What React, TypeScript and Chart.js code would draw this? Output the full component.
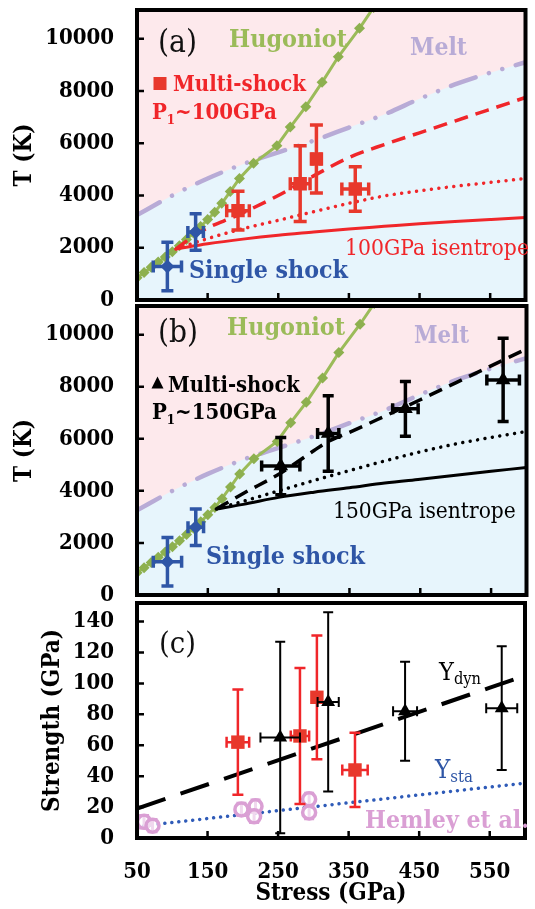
import React, { useEffect, useRef } from 'react';
import { Chart, registerables } from 'chart.js';

Chart.register(...registerables);

const FONT = "'DejaVu Serif Condensed', 'DejaVu Serif', serif";
const W = 535;

// ---------- tick labels ----------
const xTicks = [50, 150, 250, 350, 450, 550];
const tTicks = [0, 2000, 4000, 6000, 8000, 10000];
const sTicks = [0, 20, 40, 60, 80, 100, 120, 140];

// ---------- melt curve (T vs P) ----------
const meltP = [50, 100, 150, 200, 250, 300, 350, 400, 450, 500, 550, 600];
const meltT = [3250, 4000, 4650, 5200, 5650, 6100, 6600, 7100, 7700, 8250, 8700, 9100];

// ---------- Hugoniot ----------
const hugP = [50, 60, 70, 80, 90, 100, 110, 120, 130, 140, 150, 160, 170, 182, 195, 215, 248, 267, 289, 312, 335, 365, 385];
const hugT = [850, 1050, 1250, 1450, 1650, 1850, 2080, 2320, 2560, 2810, 3080, 3360, 3700, 4150, 4650, 5230, 5900, 6620, 7400, 8330, 9310, 10400, 11200];

// ---------- single shock ----------
const singleP = [93, 133];
const singleT = [1280, 2600];
const singlePErr = [20, 11];
const singleTErr = [930, 700];

// ---------- panel (a): multi-shock P1~100GPa ----------
const msA_P = [193, 281, 304, 359];
const msA_T = [3420, 4450, 5400, 4250];
const msA_PErr = [16, 14, 6, 19];
const msA_TErr = [740, 1450, 1300, 850];
const isenA_P = [105, 150, 200, 250, 300, 350, 400, 450, 500, 550, 600];
const isenA_T = [1950, 2150, 2330, 2480, 2600, 2720, 2820, 2920, 3000, 3080, 3160];
const dotA_P = [105, 150, 200, 250, 300, 350, 400, 450, 500, 550, 600];
const dotA_T = [1950, 2350, 2730, 3050, 3380, 3700, 3980, 4180, 4350, 4500, 4650];
const dashA_P = [105, 140, 193, 250, 300, 350, 400, 450, 500, 550, 600];
const dashA_T = [1950, 2620, 3250, 4000, 4750, 5450, 5950, 6400, 6850, 7300, 7750];

// ---------- panel (b): multi-shock P1~150GPa ----------
const msB_P = [253, 320, 429, 567];
const msB_T = [4950, 6200, 7150, 8260];
const msB_PErr = [27, 15, 18, 23];
const msB_TErr = [1100, 1450, 1050, 1600];
const isenB_P = [162, 200, 250, 300, 350, 400, 450, 500, 550, 600];
const isenB_T = [3300, 3480, 3750, 3950, 4120, 4300, 4450, 4600, 4750, 4900];
const dotB_P = [162, 200, 250, 300, 350, 400, 450, 500, 550, 600];
const dotB_T = [3300, 3600, 4000, 4400, 4780, 5150, 5500, 5800, 6050, 6280];
const dashB_P = [162, 200, 252, 300, 320, 350, 400, 450, 500, 550, 600];
const dashB_T = [3300, 3900, 4670, 5550, 5900, 6250, 6870, 7500, 8150, 8800, 9450];

// ---------- panel (c): strength ----------
const strRedP = [193, 281, 305, 359];
const strRedS = [62, 66, 91, 44];
const strRedPErr = [16, 13, 6, 18];
const strRedSErr = [34, 44, 40, 24];
const strBlkP = [253, 321, 430, 567];
const strBlkS = [65, 88, 82, 84];
const strBlkPErr = [28, 15, 17, 22];
const strBlkSErr = [62, 58, 32, 40];
const hemleyP = [60, 72, 198, 218, 216, 294, 294];
const hemleyS = [10.5, 8, 18.5, 20.5, 14, 25, 16.5];
const hemleySErr = [4, 4, 4, 4, 4, 4, 4];
const ydynP = [50, 600];
const ydynS = [19, 105];
const ystaP = [50, 600];
const ystaS = [7.5, 35.5];

// ---------- colours ----------
const BLUE = '#2f56a6';
const RED = '#f0262a';
const RED_M = '#e8382c';
const GREEN = '#9bbb59';
const GREEN_M = '#8db04f';
const LAV = '#b8abd6';
const PINK_BG = '#fde9ec';
const BLUE_BG = '#e7f5fc';
const HEM = '#da9fd4';

const pts = (xs: number[], ys: number[]) => xs.map((x, i) => ({ x, y: ys[i] }));

function lineDs(xs: number[], ys: number[], color: string, width: number, dash: number[] = [], cap = 'butt', extra: any = {}) {
  return {
    data: pts(xs, ys), showLine: true, borderColor: color, borderWidth: width, borderDash: dash,
    borderCapStyle: cap, pointRadius: 0, fill: false, cubicInterpolationMode: 'monotone', ...extra,
  };
}
function markDs(xs: number[], ys: number[], style: string, radius: number, color: string, extra: any = {}) {
  return {
    data: pts(xs, ys), showLine: false, pointStyle: style, pointRadius: radius,
    pointBackgroundColor: color, pointBorderColor: color, pointBorderWidth: 0, ...extra,
  };
}
const hugDs = () => lineDs(hugP, hugT, GREEN, 3, [], 'butt', {
  pointRadius: 5.5, pointStyle: 'rectRot', pointBackgroundColor: GREEN_M, pointBorderWidth: 0,
  cubicInterpolationMode: 'default', tension: 0,
});
const meltDs = () => lineDs(meltP, meltT, LAV, 4.5, [26, 14, 0.01, 14, 0.01, 14], 'round', {
  fill: 'origin', backgroundColor: BLUE_BG,
});

type Part = { t: string; sub?: boolean };
type Label = { parts: Part[]; x: number; y: number; w: number; bold?: boolean; color: string; subScale?: number; subDrop?: number };

function drawLabel(ctx: CanvasRenderingContext2D, L: Label, offY: number) {
  const weight = L.bold ? 'bold' : 'normal';
  const ss = L.subScale ?? 0.6;
  const widthAt = (size: number) => {
    let w = 0;
    for (const p of L.parts) {
      ctx.font = `${weight} ${p.sub ? size * ss : size}px ${FONT}`;
      w += ctx.measureText(p.t).width;
    }
    return w;
  };
  const size = (20 * L.w) / widthAt(20);
  let x = L.x;
  ctx.fillStyle = L.color;
  ctx.textAlign = 'left';
  ctx.textBaseline = 'alphabetic';
  for (const p of L.parts) {
    const s = p.sub ? size * ss : size;
    ctx.font = `${weight} ${s}px ${FONT}`;
    ctx.fillText(p.t, x, L.y - offY + (p.sub ? size * (L.subDrop ?? 0.25) : 0));
    x += ctx.measureText(p.t).width;
  }
}

function panelPlugin(opts: any) {
  return {
    id: 'panelDeco',
    beforeDraw(chart: any) {
      if (!opts.bg) return;
      const { ctx, chartArea: a } = chart;
      ctx.save();
      ctx.fillStyle = opts.bg;
      ctx.fillRect(a.left, a.top, a.right - a.left, a.bottom - a.top);
      ctx.restore();
    },
    beforeDatasetDraw(chart: any, args: any) {
      const spec = opts.errs.find((e: any) => e.index === args.index);
      if (!spec) return;
      const { ctx, chartArea: a } = chart;
      const xs = chart.scales.x;
      const ys = chart.scales.y;
      ctx.save();
      ctx.beginPath();
      ctx.rect(a.left, a.top, a.right - a.left, a.bottom - a.top);
      ctx.clip();
      ctx.setLineDash([]);
      ctx.strokeStyle = spec.color;
      ctx.lineWidth = spec.lw;
      ctx.lineCap = 'butt';
      spec.x.forEach((xv: number, i: number) => {
        const yv = spec.y[i];
        const px = xs.getPixelForValue(xv);
        const py = ys.getPixelForValue(yv);
        const y0 = ys.getPixelForValue(yv - spec.ye[i]);
        const y1 = ys.getPixelForValue(yv + spec.ye[i]);
        ctx.beginPath();
        ctx.moveTo(px, y0); ctx.lineTo(px, y1);
        ctx.moveTo(px - spec.cap, y0); ctx.lineTo(px + spec.cap, y0);
        ctx.moveTo(px - spec.cap, y1); ctx.lineTo(px + spec.cap, y1);
        if (spec.xe[i] > 0) {
          const x0 = xs.getPixelForValue(xv - spec.xe[i]);
          const x1 = xs.getPixelForValue(xv + spec.xe[i]);
          ctx.moveTo(x0, py); ctx.lineTo(x1, py);
          ctx.moveTo(x0, py - spec.cap); ctx.lineTo(x0, py + spec.cap);
          ctx.moveTo(x1, py - spec.cap); ctx.lineTo(x1, py + spec.cap);
        }
        ctx.stroke();
      });
      ctx.restore();
    },
    afterDraw(chart: any) {
      const { ctx, chartArea: a } = chart;
      const xs = chart.scales.x;
      const ys = chart.scales.y;
      ctx.save();
      ctx.setLineDash([]);
      ctx.strokeStyle = '#000';
      ctx.lineWidth = 2.5;
      ctx.beginPath();
      for (const v of opts.yTicks) {
        const py = ys.getPixelForValue(v);
        if (py < a.bottom - 3 && py > a.top + 3) { ctx.moveTo(a.left, py); ctx.lineTo(a.left + 7, py); }
      }
      for (const v of xTicks) {
        const px = xs.getPixelForValue(v);
        if (px > a.left + 3 && px < a.right - 3) { ctx.moveTo(px, a.bottom); ctx.lineTo(px, a.bottom - 7); }
      }
      ctx.stroke();
      ctx.lineWidth = 4;
      ctx.strokeRect(a.left, a.top, a.right - a.left, a.bottom - a.top);
      for (const m of opts.marks) {
        ctx.fillStyle = m.color;
        const cy = m.y - opts.offY;
        if (m.shape === 'square') {
          ctx.fillRect(m.x - m.s / 2, cy - m.s / 2, m.s, m.s);
        } else {
          ctx.beginPath();
          ctx.moveTo(m.x, cy - m.s * 0.55);
          ctx.lineTo(m.x + m.s / 2, cy + m.s * 0.45);
          ctx.lineTo(m.x - m.s / 2, cy + m.s * 0.45);
          ctx.closePath();
          ctx.fill();
        }
      }
      for (const L of opts.labels) drawLabel(ctx, L, opts.offY);
      ctx.restore();
    },
  };
}

const tickFont = { family: FONT, size: 22, weight: 'bold' };
const titleFont = { family: FONT, size: 24, weight: 'bold' };

function yScale(ticks: number[], max: number, title: string, titlePad: number) {
  return {
    type: 'linear', min: 0, max,
    afterBuildTicks: (s: any) => { s.ticks = ticks.map((v) => ({ value: v })); },
    afterFit: (s: any) => { s.width = 137; s.paddingTop = 0; s.paddingBottom = 0; },
    grid: { display: false, drawTicks: false },
    border: { display: false },
    ticks: { color: '#000', font: tickFont, padding: 23, autoSkip: false, callback: (v: any) => String(v) },
    title: { display: true, text: title, color: '#000', font: titleFont, padding: { top: titlePad, bottom: 0 } },
  };
}
const xHidden = () => ({ type: 'linear', min: 50, max: 600, display: false });
const xShown = () => ({
  type: 'linear', min: 50, max: 600,
  afterBuildTicks: (s: any) => { s.ticks = xTicks.map((v) => ({ value: v })); },
  afterFit: (s: any) => { s.height = 71; s.paddingLeft = 0; s.paddingRight = 0; },
  grid: { display: false, drawTicks: false },
  border: { display: false },
  ticks: { color: '#000', font: tickFont, padding: 21, autoSkip: false, maxRotation: 0, callback: (v: any) => String(v) },
  title: { display: true, text: 'Stress (GPa)', color: '#000', font: titleFont, padding: { top: 0, bottom: 1 } },
});

function baseOptions(pad: any, x: any, y: any) {
  return {
    animation: false, responsive: false, events: [],
    layout: { padding: { left: 0, right: 1, ...pad } },
    plugins: { legend: { display: false }, tooltip: { enabled: false } },
    scales: { x, y },
  };
}

function buildA() {
  const offY = 0;
  return {
    type: 'line',
    data: {
      datasets: [
        markDs(singleP, singleT, 'rectRot', 7, BLUE),
        markDs(msA_P, msA_T, 'rect', 9.5, RED_M),
        lineDs(dashA_P, dashA_T, RED, 3.5, [14, 8]),
        lineDs(dotA_P, dotA_T, RED, 3.5, [0.01, 7.5], 'round'),
        lineDs(isenA_P, isenA_T, RED, 3),
        hugDs(),
        meltDs(),
      ],
    },
    options: baseOptions({ top: 10, bottom: 20 }, xHidden(), yScale(tTicks, 11100, 'T (K)', 10)),
    plugins: [panelPlugin({
      bg: PINK_BG, offY, yTicks: tTicks,
      errs: [
        { index: 0, x: singleP, y: singleT, xe: singlePErr, ye: singleTErr, color: BLUE, lw: 3.5, cap: 6 },
        { index: 1, x: msA_P, y: msA_T, xe: msA_PErr, ye: msA_TErr, color: RED_M, lw: 3.5, cap: 6.5 },
      ],
      marks: [{ shape: 'square', x: 160, y: 83.5, s: 13, color: RED_M }],
      labels: [
        { parts: [{ t: '(a)' }], x: 158, y: 52, w: 39, color: '#111' },
        { parts: [{ t: 'Hugoniot' }], x: 229, y: 47, w: 118, bold: true, color: GREEN },
        { parts: [{ t: 'Melt' }], x: 410, y: 55, w: 57, bold: true, color: LAV },
        { parts: [{ t: 'Multi-shock' }], x: 173, y: 91, w: 133, bold: true, color: RED },
        { parts: [{ t: 'P' }, { t: '1', sub: true }, { t: '~100GPa' }], x: 152, y: 119, w: 125, bold: true, color: RED },
        { parts: [{ t: '100GPa isentrope' }], x: 345, y: 255, w: 184, color: RED },
        { parts: [{ t: 'Single shock' }], x: 189, y: 278, w: 159, bold: true, color: BLUE },
      ],
    })],
  };
}

function buildB() {
  const offY = 296;
  return {
    type: 'line',
    data: {
      datasets: [
        markDs(singleP, singleT, 'rectRot', 7, BLUE),
        markDs(msB_P, msB_T, 'triangle', 8.5, '#000'),
        lineDs(dashB_P, dashB_T, '#000', 3.5, [14, 8]),
        lineDs(dotB_P, dotB_T, '#000', 3.5, [0.01, 7.5], 'round'),
        lineDs(isenB_P, isenB_T, '#000', 3),
        hugDs(),
        meltDs(),
      ],
    },
    options: baseOptions({ top: 10, bottom: 21 }, xHidden(), yScale(tTicks, 11100, 'T (K)', 10)),
    plugins: [panelPlugin({
      bg: PINK_BG, offY, yTicks: tTicks,
      errs: [
        { index: 0, x: singleP, y: singleT, xe: singlePErr, ye: singleTErr, color: BLUE, lw: 3.5, cap: 6 },
        { index: 1, x: msB_P, y: msB_T, xe: msB_PErr, ye: msB_TErr, color: '#000', lw: 3.5, cap: 5.5 },
      ],
      marks: [{ shape: 'tri', x: 157.5, y: 383, s: 12, color: '#000' }],
      labels: [
        { parts: [{ t: '(b)' }], x: 158, y: 342, w: 40, color: '#111' },
        { parts: [{ t: 'Hugoniot' }], x: 227, y: 335, w: 118, bold: true, color: GREEN },
        { parts: [{ t: 'Melt' }], x: 414, y: 343, w: 55, bold: true, color: LAV },
        { parts: [{ t: 'Multi-shock' }], x: 168, y: 392, w: 132, bold: true, color: '#000' },
        { parts: [{ t: 'P' }, { t: '1', sub: true }, { t: '~150GPa' }], x: 152, y: 419, w: 125, bold: true, color: '#000' },
        { parts: [{ t: '150GPa isentrope' }], x: 333, y: 518, w: 183, color: '#000' },
        { parts: [{ t: 'Single shock' }], x: 206, y: 564, w: 159, bold: true, color: BLUE },
      ],
    })],
  };
}

function buildC() {
  const offY = 593;
  return {
    type: 'line',
    data: {
      datasets: [
        markDs(strBlkP, strBlkS, 'triangle', 8, '#000'),
        markDs(strRedP, strRedS, 'rect', 9.5, RED_M),
        markDs(hemleyP, hemleyS, 'circle', 6.5, 'rgba(255,255,255,0.6)', { pointBorderColor: HEM, pointBorderWidth: 3.5 }),
        lineDs(ydynP, ydynS, '#000', 4, [30, 16]),
        lineDs(ystaP, ystaS, '#2f5bb8', 3.5, [0.01, 7], 'round'),
      ],
    },
    options: baseOptions({ top: 10, bottom: 0 }, xShown(), yScale(sTicks, 152, 'Strength (GPa)', 38)),
    plugins: [panelPlugin({
      bg: null, offY, yTicks: sTicks,
      errs: [
        { index: 0, x: strBlkP, y: strBlkS, xe: strBlkPErr, ye: strBlkSErr, color: '#000', lw: 2, cap: 5 },
        { index: 1, x: strRedP, y: strRedS, xe: strRedPErr, ye: strRedSErr, color: RED, lw: 2.5, cap: 5.5 },
        { index: 2, x: hemleyP, y: hemleyS, xe: hemleyP.map(() => 0), ye: hemleySErr, color: HEM, lw: 3, cap: 5 },
      ],
      marks: [],
      labels: [
        { parts: [{ t: '(c)' }], x: 159, y: 653, w: 37, color: '#111' },
        { parts: [{ t: 'Y' }, { t: 'dyn', sub: true }], x: 439, y: 680, w: 42, color: '#000', subScale: 0.65, subDrop: 0.15 },
        { parts: [{ t: 'Y' }, { t: 'sta', sub: true }], x: 435, y: 778, w: 38, color: BLUE, subScale: 0.65, subDrop: 0.15 },
        { parts: [{ t: 'Hemley et al.' }], x: 365, y: 828, w: 164, bold: true, color: HEM },
      ],
    })],
  };
}

function Panel({ top, height, build }: { top: number; height: number; build: () => any }) {
  const ref = useRef<HTMLCanvasElement>(null);
  useEffect(() => {
    const chart = new Chart(ref.current as HTMLCanvasElement, build());
    return () => chart.destroy();
  }, []);
  return (
    <canvas
      ref={ref}
      width={W}
      height={height}
      style={{ position: 'absolute', left: 0, top, width: W, height, display: 'block' }}
    />
  );
}

export default function App() {
  return (
    <div style={{ position: 'fixed', left: 0, top: 0, width: W, height: 909, overflow: 'hidden', background: '#fff' }}>
      <Panel top={0} height={320} build={buildA} />
      <Panel top={296} height={320} build={buildB} />
      <Panel top={593} height={316} build={buildC} />
    </div>
  );
}
